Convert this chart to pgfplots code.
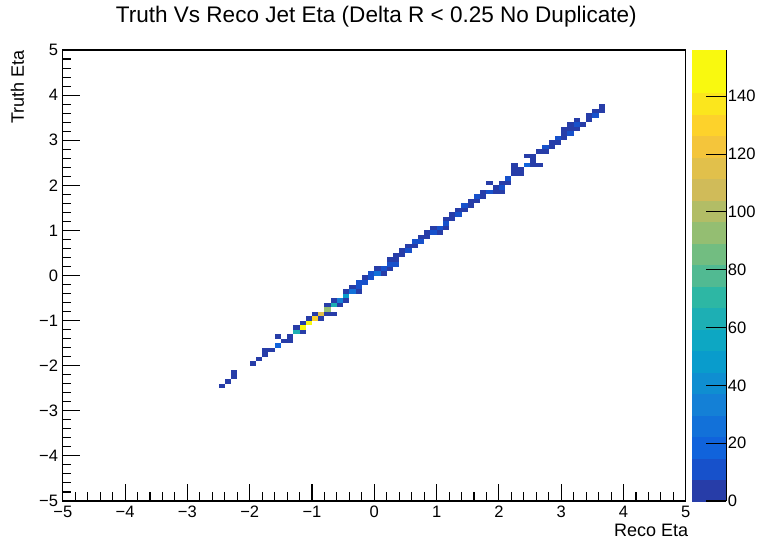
\documentclass[border=0pt]{standalone}
\usepackage{fontspec}
\setmainfont{Liberation Sans}
\usepackage{pgfplots}
\usepackage{pgfplotstable}
\pgfplotsset{compat=1.18}
\pgfdeclareplotmark{cell}{\pgfpathrectangle{\pgfqpoint{-2.36pt}{-1.71pt}}{\pgfqpoint{4.72pt}{3.42pt}}\pgfusepathqfill}

\pgfplotstableread{
x y c
-2.45 -2.45 3
-2.35 -2.35 3
-2.25 -2.25 4
-2.25 -2.15 3
-1.95 -1.95 3
-1.85 -1.85 4
-1.75 -1.75 5
-1.75 -1.65 3
-1.65 -1.65 5
-1.55 -1.55 22
-1.55 -1.35 3
-1.45 -1.45 5
-1.35 -1.45 5
-1.35 -1.35 6
-1.25 -1.25 65
-1.25 -1.15 4
-1.15 -1.25 5
-1.15 -1.15 156
-1.15 -1.05 5
-1.05 -1.05 142
-1.05 -0.95 5
-0.95 -0.95 130
-0.95 -0.85 5
-0.85 -0.95 5
-0.85 -0.85 112
-0.75 -0.85 5
-0.75 -0.75 95
-0.75 -0.65 5
-0.65 -0.85 4
-0.65 -0.65 60
-0.65 -0.55 5
-0.55 -0.65 5
-0.55 -0.55 35
-0.45 -0.55 5
-0.45 -0.45 48
-0.45 -0.35 6
-0.35 -0.35 28
-0.35 -0.25 6
-0.25 -0.35 5
-0.25 -0.25 14
-0.25 -0.15 8
-0.15 -0.15 10
-0.15 -0.05 6
-0.05 -0.05 9
-0.05 0.05 14
0.05 0.05 25
0.05 0.15 5
0.15 0.05 6
0.15 0.15 14
0.25 0.15 5
0.25 0.25 8
0.25 0.35 5
0.35 0.25 12
0.35 0.35 6
0.35 0.45 4
0.45 0.45 6
0.45 0.55 5
0.55 0.55 10
0.55 0.65 6
0.65 0.65 6
0.65 0.75 8
0.75 0.75 14
0.75 0.85 5
0.85 0.85 7
0.85 0.95 6
0.95 0.95 8
0.95 1.05 5
1.05 0.95 5
1.05 1.05 12
1.15 1.05 5
1.15 1.15 8
1.15 1.25 4
1.25 1.25 6
1.25 1.35 5
1.35 1.35 12
1.35 1.45 7
1.45 1.45 6
1.45 1.55 8
1.55 1.55 7
1.55 1.65 5
1.65 1.65 6
1.65 1.75 12
1.75 1.75 7
1.75 1.85 6
1.85 1.85 8
1.85 2.05 3
1.95 1.85 4
1.95 1.95 7
2.05 1.95 12
2.05 1.85 5
2.05 2.05 4
2.15 2.05 5
2.15 2.15 8
2.25 2.25 6
2.25 2.35 7
2.25 2.45 4
2.35 2.35 5
2.35 2.25 4
2.45 2.45 18
2.45 2.65 4
2.55 2.65 5
2.55 2.55 6
2.55 2.45 4
2.65 2.45 4
2.65 2.75 7
2.75 2.75 6
2.75 2.85 8
2.85 2.85 6
2.85 2.95 5
2.95 2.95 6
2.95 3.05 12
3.05 3.05 7
3.05 3.15 6
3.05 3.25 4
3.15 3.15 14
3.15 3.25 7
3.15 3.35 5
3.25 3.25 6
3.25 3.35 14
3.25 3.45 5
3.35 3.35 4
3.45 3.45 6
3.45 3.55 5
3.55 3.55 12
3.55 3.65 6
3.65 3.65 5
3.65 3.75 4
}\cells

\pgfplotsset{
  /pgf/number format/assume math mode=true,
  bird/.style={
    colormap={bird}{rgb255=(39,61,168) rgb255=(23,81,203) rgb255=(16,99,220)
      rgb255=(18,113,217) rgb255=(20,128,214) rgb255=(15,142,209) rgb255=(9,156,204)
      rgb255=(13,167,195) rgb255=(29,175,180) rgb255=(45,183,164) rgb255=(81,186,146)
      rgb255=(114,189,129) rgb255=(148,190,114) rgb255=(178,189,102) rgb255=(208,187,89)
      rgb255=(225,192,75) rgb255=(244,197,59) rgb255=(253,210,43) rgb255=(251,230,29)
      rgb255=(249,249,15) rgb255=(249,249,15)},
    colormap access=piecewise constant,
  },
}

\begin{document}
\begin{tikzpicture}
\begin{axis}[
  name=main,
  scale only axis, width=467.25pt, height=338.25pt,
  xmin=-5, xmax=5, ymin=-5, ymax=5,
  xtick={-5,-4,...,5}, ytick={-5,-4,...,5},
  xticklabels={−5,−4,−3,−2,−1,0,1,2,3,4,5},
  yticklabels={−5,−4,−3,−2,−1,0,1,2,3,4,5},
  minor x tick num=4, minor y tick num=4,
  tick align=inside, xtick pos=bottom, ytick pos=left,
  major tick length=13pt, minor tick length=6.5pt,
  every tick/.style={black, line width=0.8pt},
  axis line style={line width=0.8pt},
  tick label style={font=\fontsize{12.4}{14}\selectfont},
  bird,
  point meta min=0, point meta max=156,
  colorbar,
  colorbar style={
    at={(parent axis.north east)}, anchor=north west, xshift=-4.35pt,
    scale only axis, width=26.25pt, height=338.25pt,
    axis x line=none, axis y line*=right,
    ymin=0, ymax=156,
    ytick={0,20,...,140},
    yticklabels={0,20,40,60,80,100,120,140},
    tick align=inside, major tick length=15pt,
    every tick/.style={black, line width=0.8pt},
    axis line style={line width=0.8pt},
    yticklabel style={font=\fontsize{12.4}{14}\selectfont, inner sep=1pt, anchor=west},
  },
]
\addplot[scatter, only marks, mark=cell, point meta=\thisrow{c},
  scatter/use mapped color={draw=mapped color, fill=mapped color}]
  table[x=x, y=y] {\cells};
\end{axis}
\node[font=\fontsize{16.9}{20}\selectfont, anchor=center] at ([xshift=1.5pt, yshift=24.75pt]main.north) {Truth Vs Reco Jet Eta (Delta R < 0.25 No Duplicate)};
\node[font=\fontsize{13.5}{16}\selectfont, anchor=east, inner sep=0pt] at ([xshift=1.9pt, yshift=-21.75pt]main.south east) {Reco Eta};
\node[font=\fontsize{13.5}{16}\selectfont, rotate=90, anchor=east, inner sep=0pt] at ([xshift=-34pt]main.north west) {Truth Eta};
\path ([xshift=-47.1pt, yshift=-29.25pt]main.south west) rectangle ++(576pt,405pt);
\end{tikzpicture}
\end{document}
